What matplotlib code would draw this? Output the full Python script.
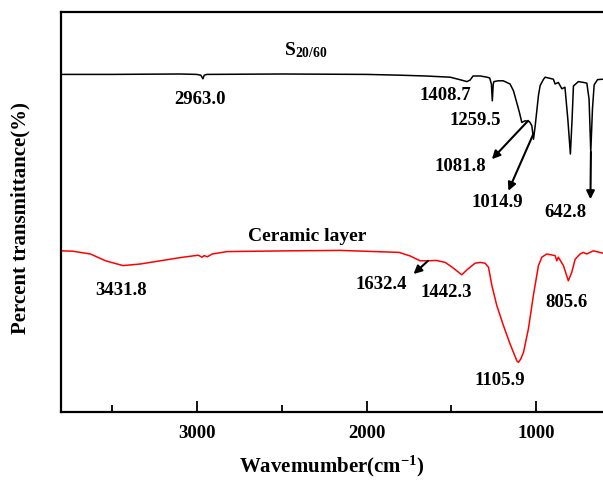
import matplotlib
matplotlib.use("Agg")
import matplotlib.pyplot as plt
from matplotlib.ticker import MultipleLocator

plt.rcParams['font.family'] = ['Liberation Serif', 'DejaVu Serif']
plt.rcParams['font.weight'] = 'bold'
plt.rcParams['mathtext.fontset'] = 'custom'
plt.rcParams['mathtext.rm'] = 'Liberation Serif:bold'
plt.rcParams['mathtext.it'] = 'Liberation Serif:bold'
plt.rcParams['mathtext.bf'] = 'Liberation Serif:bold'

# S20/60 spectrum (wavenumber, transmittance)
s_wn = [3800, 3500, 3100, 3000, 2975, 2963, 2955, 2940, 2500, 2000, 1800, 1650,
        1507, 1443, 1409, 1390, 1373, 1330, 1290, 1275, 1265, 1259.5, 1254, 1250,
        1225, 1195, 1155, 1135, 1116, 1100, 1086, 1067, 1041, 1027, 1017, 1007,
        988, 978, 958, 948, 900, 890, 871, 850, 832, 815, 800, 790, 782, 753,
        723, 703, 690, 680, 670, 660, 640, 608]
s_t = [84.4, 84.4, 84.5, 84.4, 84.2, 83.3, 84.2, 84.4, 84.5, 84.4, 84.2, 84.0,
       83.7, 83.0, 82.6, 83.0, 84.0, 84.0, 83.7, 83.5, 82.0, 77.8, 82.0, 82.6,
       82.8, 82.8, 82.0, 80.3, 77.4, 74.9, 72.4, 72.8, 72.6, 71.6, 68.2, 71.6,
       79.1, 81.6, 83.2, 83.7, 83.2, 82.0, 82.4, 80.8, 81.2, 73.2, 64.5, 73.2, 81.5, 82.6,
       82.4, 82.2, 78.2, 65.0, 75.8, 81.8, 83.1, 83.2]

# Ceramic layer spectrum
c_wn = [3800, 3729, 3625, 3536, 3433, 3331, 3214, 3096, 2990, 2969, 2955, 2937,
        2908, 2821, 2443, 2155, 1808, 1743, 1684, 1637, 1590, 1537, 1496, 1439,
        1402, 1361, 1331, 1302, 1282, 1262, 1233, 1194, 1155, 1115, 1106, 1093,
        1076, 1047, 1018, 988, 968, 939, 890, 880, 871, 841, 812, 792, 772, 743,
        724, 704, 665, 608]
c_t = [40.3, 40.2, 39.5, 37.8, 36.6, 37.0, 37.8, 38.6, 39.2, 38.7, 39.1, 38.8,
       39.5, 40.1, 40.3, 40.4, 39.9, 39.0, 37.8, 37.8, 37.9, 37.4, 36.2, 34.3,
       35.8, 37.2, 37.4, 37.2, 36.2, 31.6, 26.6, 21.6, 17.0, 12.8, 12.4, 13.2,
       14.9, 20.8, 29.1, 36.6, 38.7, 39.5, 39.1, 37.8, 38.7, 36.6, 32.8, 34.9,
       38.2, 39.5, 39.9, 39.5, 40.3, 39.7]

# peak labels: text, (x, y) of text
s_labels = [("2963.0", 2979, 78.5), ("1408.7", 1537, 79.5), ("1259.5", 1361, 73.2)]
c_labels = [("3431.8", 3444, 30.5), ("1442.3", 1531, 30.0), ("805.6", 820, 27.5),
            ("1105.9", 1214, 8.2)]
# arrow labels: text, text position, arrow tip
arrow_labels = [("1081.8", (1449, 61.5), (1049, 72.8), (1262, 63.2)),
                ("1014.9", (1231, 52.7), (1018, 69.5), (1165, 55.3)),
                ("642.8", (831, 50.0), (679, 65.0), (682, 53.2)),
                ("1632.4", (1916, 32.2), (1638, 37.8), (1723, 34.5))]

fig = plt.figure(figsize=(6.03, 4.81), dpi=100)
ax = fig.add_axes([60.7 / 603, 68 / 481, 1 - 60.7 / 603, 400 / 481])

ax.plot(s_wn, s_t, color='black', lw=1.1)
ax.plot(c_wn, c_t, color='red', lw=1.1)

ax.set_xlim(3800, 608)
ax.set_ylim(0, 100)
ax.xaxis.set_major_locator(MultipleLocator(1000))
ax.xaxis.set_minor_locator(MultipleLocator(500))
ax.tick_params(axis='x', which='major', direction='in', length=8, width=1.3,
               labelsize=13.5, pad=9)
ax.tick_params(axis='x', which='minor', direction='in', length=5, width=1.3)
ax.set_yticks([])
for side in ['left', 'bottom', 'top']:
    ax.spines[side].set_linewidth(1.6)
ax.spines['right'].set_visible(False)

for lab in ax.get_xticklabels():
    lab.set_fontweight('bold')

ax.set_xlabel(r'Wavemumber(cm$^{-1}$)', fontsize=15, fontweight='bold', labelpad=8)
fig.text(20 / 603, 1 - 218 / 481, 'Percent transmittance(%)', rotation=90,
         fontsize=15, fontweight='bold', ha='center', va='center')

ax.text(2360, 90.7, r'S$_{20/60}$', fontsize=14, ha='center', va='center')
ax.text(2349, 44.2, 'Ceramic layer', fontsize=14, ha='center', va='center')

for txt, x, y in s_labels + c_labels:
    ax.text(x, y, txt, fontsize=13.5, ha='center', va='center')

for txt, tpos, start, tip in arrow_labels:
    ax.text(tpos[0], tpos[1], txt, fontsize=13.5, ha='center', va='center')
    ax.annotate('', xy=tip, xytext=start,
                arrowprops=dict(arrowstyle='-|>', color='black', lw=1.5,
                                mutation_scale=12, shrinkA=0, shrinkB=0))

fig.savefig('out.png', dpi=100)
